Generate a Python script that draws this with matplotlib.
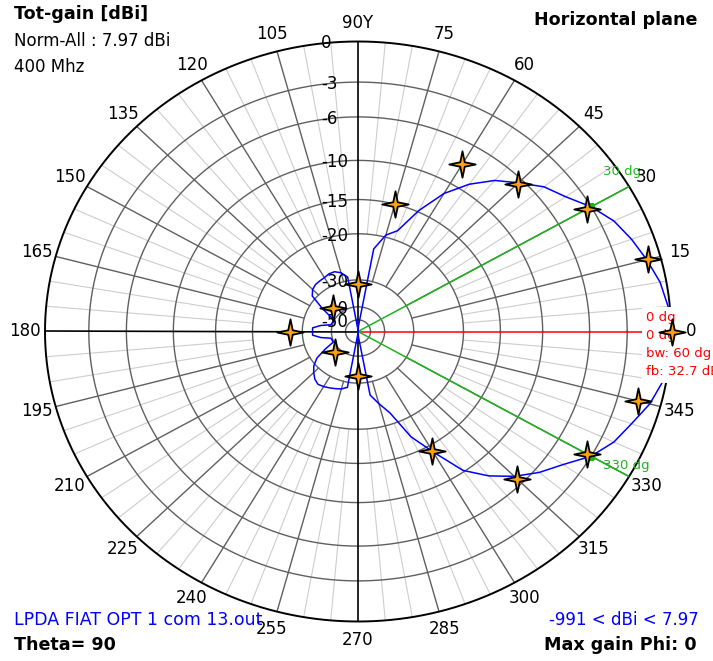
import numpy as np
import matplotlib
matplotlib.use('Agg')
import matplotlib.pyplot as plt
from matplotlib.path import Path

# radial scale of the plot: dB value -> relative radius
scale_db = [-60, -50, -40, -30, -20, -15, -10, -6, -3, 0, 10]
scale_r = [0, 0.04, 0.085, 0.178, 0.337, 0.455, 0.59, 0.74, 0.86, 1.0, 1.467]

ring_db = [-50, -40, -30, -20, -15, -10, -6, -3]
ring_text = ['0', '-3', '-6', '-10', '-15', '-20', '-30', '-40', '-50']
ring_text_db = [0, -3, -6, -10, -15, -20, -30, -40, -50]

# pattern, every 5 degrees from 0 to 355 (dB, normalised to max gain)
phi = np.arange(0, 360, 5)
gain = [0, -0.12, -0.43, -0.96, -1.5, -2.1, -3.0, -4.25, -5.1, -6.4,
        -7.6, -9.2, -11.5, -14.8, -18.6, -19.7, -23.0, -55, -60, -57,
        -29.2, -28.0, -27.4, -27.4, -27.7, -27.8, -27.9, -28.3, -29.2, -34.1,
        -38.4, -39.8, -39.7, -39.5, -36.2, -33.5, -33.5, -33.5, -36.2, -39.5,
        -39.7, -39.7, -36.2, -31.9, -29.6, -28.6, -27.7, -27.2, -27.4, -27.7,
        -28.0, -28.3, -28.9, -57, -60, -55, -27.2, -25.0, -22.4, -17.3,
        -14.1, -10.2, -8.4, -6.9, -5.6, -4.5, -3.0, -2.1, -1.5, -0.75,
        -0.23, -0.05]

# reference points (stars)
star_phi = [0, 15, 30, 45, 60, 75, 90, 135, 180, 225, 270, 300, 315, 330, 345]
star_db = [0.1, -0.86, -3.4, -6.5, -8.0, -15.0, -31.7, -37.0, -27.5, -38.2,
           -32.8, -14.3, -6.6, -3.4, -1.6]

beam_phi = [30, 330]
beam_db = [-3.0, -3.0]

W, H = 713, 661


def at(x, y):
    return x / W, 1 - y / H


fig = plt.figure(figsize=(W / 100, H / 100), dpi=100)
fig.patch.set_facecolor('white')
ax = fig.add_axes([45 / W, 39.5 / H, 626 / W, 580 / H], projection='polar')
ax.set_aspect('auto')
ax.set_yscale('function', functions=(lambda v: np.interp(v, scale_db, scale_r),
                                     lambda v: np.interp(v, scale_r, scale_db)))
ax.set_ylim(-60, 0)
ax.axis('off')

full = np.linspace(0, 2 * np.pi, 721)
dark = '#5f5f5f'
light = '#cdcdcd'

# light spokes every 5 deg, dark spokes every 15 deg
for a in range(0, 360, 5):
    t = np.radians(a)
    if a % 90 == 0:
        continue
    if a % 15 == 0:
        ax.plot([t, t], [-30, 0], color=dark, lw=1.0, zorder=2)
    else:
        ax.plot([t, t], [-20, 0], color=light, lw=0.8, zorder=1)

for d in ring_db:
    ax.plot(full, np.full_like(full, d), color=dark, lw=1.0, zorder=2)
ax.plot(full, np.zeros_like(full), color='black', lw=1.4, zorder=3, clip_on=False)

# main axes
for a in [90, 180, 270]:
    ax.plot([np.radians(a)] * 2, [-60, 0], color='black', lw=1.2, zorder=3)
ax.plot([0, 0], [-60, 0], color='red', lw=1.1, zorder=4)
for a in beam_phi:
    ax.plot([np.radians(a)] * 2, [-60, 0], color='#1fb31f', lw=1.1, zorder=4)

th = np.radians(np.append(phi, phi[0]))
ax.plot(th, np.append(gain, gain[0]), color='blue', lw=1.1, zorder=5,
        clip_on=False)

ax.plot(np.radians(beam_phi), beam_db, 's', color='#1fb31f', ms=5, zorder=6)

star = Path([(0, 1), (0.17, 0.17), (1, 0), (0.17, -0.17), (0, -1),
             (-0.17, -0.17), (-1, 0), (-0.17, 0.17), (0, 1)], closed=True)
ax.plot(np.radians(star_phi), star_db, linestyle='none', marker=star, ms=19,
        mfc='#ffa312', mec='black', mew=1.3, zorder=10, clip_on=False)

# angle labels
for a in range(0, 360, 15):
    s = '90Y' if a == 90 else str(a)
    ax.text(np.radians(a), 1.35, s, ha='center', va='center', fontsize=12,
            zorder=9)

# ring labels on the vertical axis
for d, s in zip(ring_text_db, ring_text):
    ax.annotate(s, (np.pi / 2, d), xytext=(-37, -2), textcoords='offset pixels',
                ha='left', va='center', fontsize=12, zorder=4)

# beam markers text
ax.text(*at(603, 172), '30 dg', transform=fig.transFigure, color='#1fb31f',
        fontsize=9.5, va='center', zorder=7)
ax.text(*at(603, 465), '330 dg', transform=fig.transFigure, color='#1fb31f',
        fontsize=9.5, va='center', zorder=7)
for y, s in zip([318, 336, 354, 372], ['0 dg', '0 dg', 'bw: 60 dg', 'fb: 32.7 dB']):
    ax.text(*at(646, y), s, transform=fig.transFigure, color='red', fontsize=9.5,
            va='center', zorder=7,
            bbox=dict(facecolor='white', edgecolor='none', pad=3))

fig.text(*at(14, 14), 'Tot-gain [dBi]', fontsize=12.6, fontweight='bold', va='center')
fig.text(*at(14, 41), 'Norm-All : 7.97 dBi', fontsize=12, va='center')
fig.text(*at(14, 67), '400 Mhz', fontsize=12, va='center')
fig.text(*at(697, 20), 'Horizontal plane', fontsize=12.6, fontweight='bold',
         ha='right', va='center')
fig.text(*at(14, 620), 'LPDA FIAT OPT 1 com 13.out', fontsize=12.5, color='blue',
         va='center')
fig.text(*at(14, 645), 'Theta= 90', fontsize=12.6, fontweight='bold', va='center')
fig.text(*at(699, 620), '-991 < dBi < 7.97', fontsize=12, color='blue',
         ha='right', va='center')
fig.text(*at(697, 645), 'Max gain Phi: 0', fontsize=12.6, fontweight='bold',
         ha='right', va='center')

fig.savefig('out.png', dpi=100, facecolor='white')
